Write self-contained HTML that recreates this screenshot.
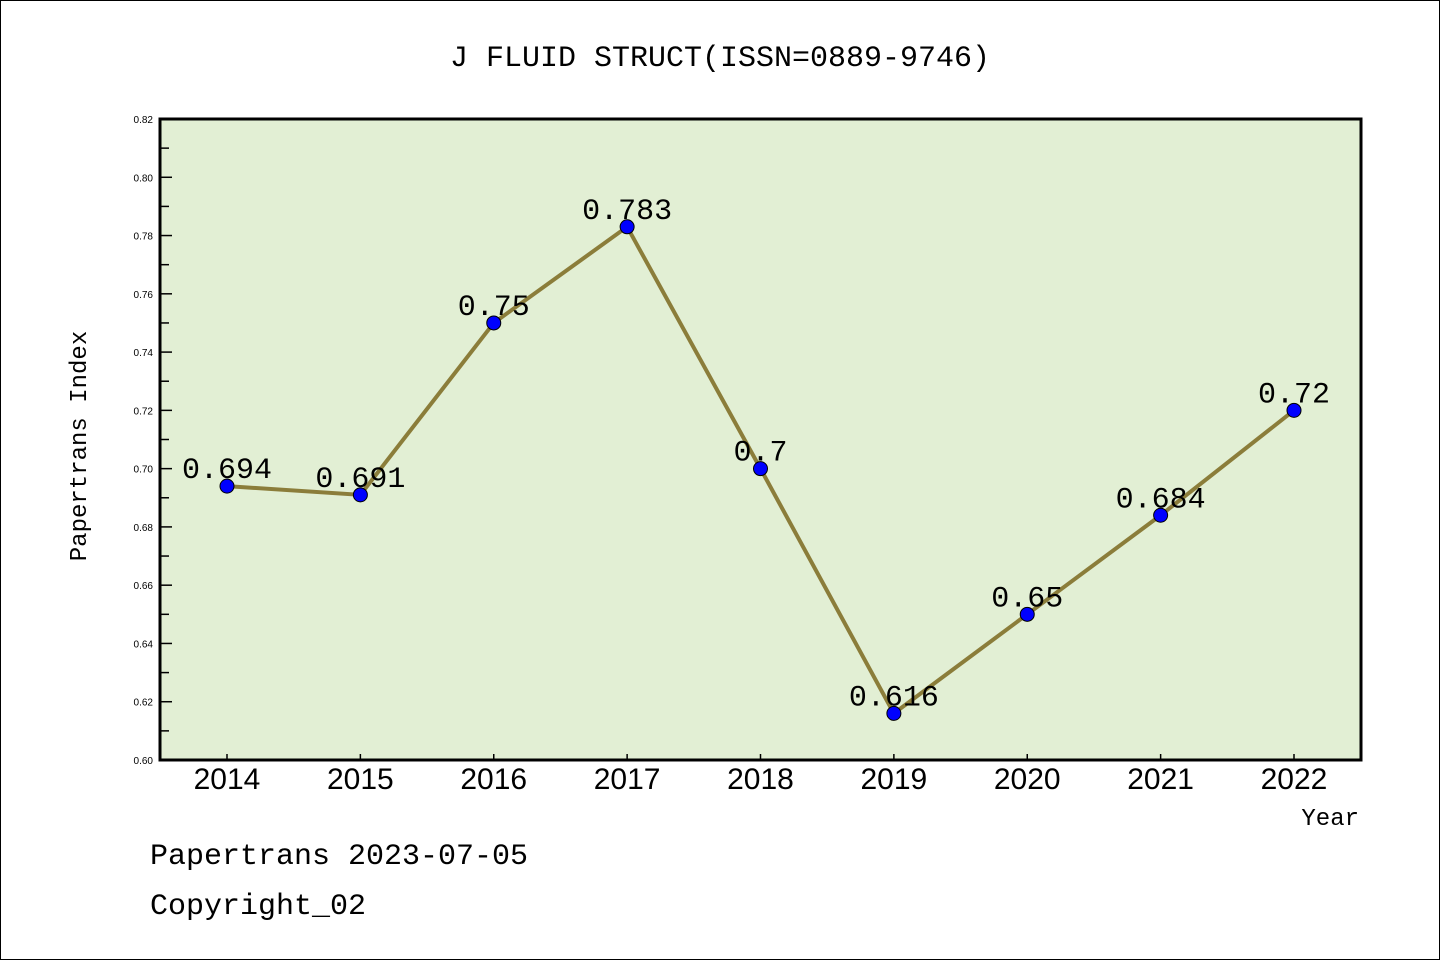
<!DOCTYPE html>
<html><head><meta charset="utf-8"><style>
body{margin:0;background:#fff}
svg{display:block}
text{font-family:"Liberation Mono","WenQuanYi Zen Hei",monospace;fill:#000}
.tk{font-family:"Liberation Sans",sans-serif;font-size:10px}
.xl{font-family:"Liberation Sans",sans-serif;font-size:30px}
</style></head><body>
<svg id="c" width="1440" height="960">
<rect x="0.5" y="0.5" width="1439" height="959" fill="#fff" stroke="#000"/>
<text x="720" y="66" text-anchor="middle" font-size="30">J FLUID STRUCT(ISSN=0889-9746)</text>
<rect x="160" y="119" width="1201" height="641" fill="#e2efd4"/>
<g id="axes"></g>
<g id="marks"></g>
<rect x="160" y="119" width="1201" height="641" fill="none" stroke="#000" stroke-width="3"/>
<text transform="translate(86,446) rotate(-90)" text-anchor="middle" font-size="24">Papertrans Index</text>
<text x="1359" y="825" text-anchor="end" font-size="24">Year</text>
<text x="150" y="864" font-size="30">Papertrans 2023-07-05</text>
<text x="150" y="914" font-size="30">Copyright_02</text>
</svg>
<script>
const years=["2014","2015","2016","2017","2018","2019","2020","2021","2022"];
const values=[0.694,0.691,0.75,0.783,0.7,0.616,0.65,0.684,0.72];
const labels=["0.694","0.691","0.75","0.783","0.7","0.616","0.65","0.684","0.72"];
const yTicks=[0.60,0.62,0.64,0.66,0.68,0.70,0.72,0.74,0.76,0.78,0.80,0.82];
const NS="http://www.w3.org/2000/svg";
const yMin=0.60,yMax=0.82,plotTop=119,plotBot=760,x0=227,x1=1294;
function ys(v){return plotBot-(v-yMin)/(yMax-yMin)*(plotBot-plotTop);}
function xs(i){return x0+i*(x1-x0)/(years.length-1);}
function mk(t,a,p){const e=document.createElementNS(NS,t);for(const k in a)e.setAttribute(k,a[k]);p.appendChild(e);return e;}
const ax=document.getElementById('axes'),mg=document.getElementById('marks');
yTicks.forEach((v,i)=>{
  const y=ys(v);
  const l=mk('line',{x1:160,x2:172,y1:y,y2:y,stroke:'#000','stroke-width':1.5},ax);
  
  
  const t=mk('text',{x:153,y:y+4,'text-anchor':'end',class:'tk'},ax);
  t.textContent=v.toFixed(2);
  
  
  if(i<yTicks.length-1){
    const ym=ys(v+0.01);
    const m=mk('line',{x1:160,x2:169,y1:ym,y2:ym,stroke:'#000','stroke-width':1.5},ax);
    
    
  }
});
years.forEach((yr,i)=>{
  const x=xs(i);
  const l=mk('line',{x1:x,x2:x,y1:plotBot,y2:plotBot-6,stroke:'#000','stroke-width':1.5},ax);
  
  
  const t=mk('text',{x:x,y:789,'text-anchor':'middle',class:'xl'},ax);
  t.textContent=yr;
  
  
});
const pts=values.map((v,i)=>xs(i)+','+ys(v)).join(' ');
const pl=mk('polyline',{points:pts,fill:'none',stroke:'#8b7d3a','stroke-width':4},mg);


values.forEach((v,i)=>{
  const c=mk('circle',{cx:xs(i),cy:ys(v),r:7,fill:'#0000ff',stroke:'#000','stroke-width':1},mg);
  
  
  const t=mk('text',{x:xs(i),y:ys(v)-8,'text-anchor':'middle','font-size':30},mg);
  t.textContent=labels[i];
  
  
});
</script>
</body></html>
